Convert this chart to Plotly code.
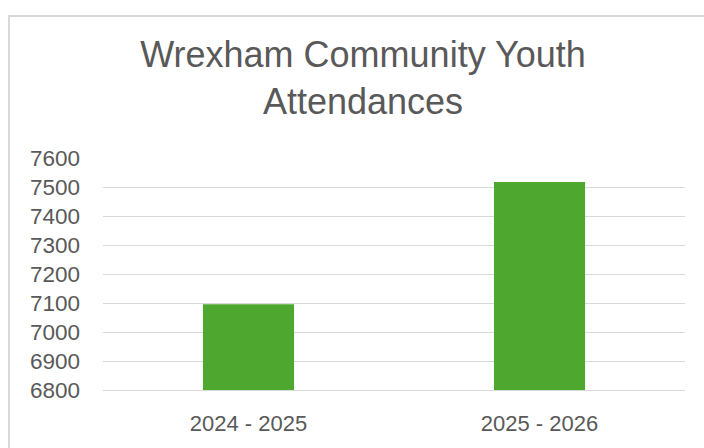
import plotly.graph_objects as go

categories = ["2024 - 2025", "2025 - 2026"]
attendances = [7096, 7517]
y_ticks = [6800, 6900, 7000, 7100, 7200, 7300, 7400, 7500, 7600]

W, H = 704, 448
L, R, T, B = 103, 685, 158, 394
pw, ph = R - L, B - T

fig = go.Figure(go.Bar(
    x=categories, y=attendances,
    marker=dict(color="#4EA72E", line=dict(width=0)),
    hoverinfo="x+y",
))

font = "Liberation Sans, Arial, sans-serif"
grey = "#595959"

fig.update_layout(
    width=W, height=H,
    margin=dict(l=L, r=W - R, t=T, b=H - B, pad=0),
    paper_bgcolor="white", plot_bgcolor="white",
    bargap=0.687,
    showlegend=False,
    font=dict(family=font, color=grey),
    title=dict(
        text="Wrexham Community Youth<br>Attendances",
        font=dict(family=font, size=36, color=grey),
        x=(363 - L) / pw, xref="paper", xanchor="center",
        y=1 - 67 / H, yref="container", yanchor="top",
    ),
    xaxis=dict(
        showgrid=False, showline=True, linecolor="#D9D9D9", linewidth=1,
        tickfont=dict(size=22, color=grey), ticks="", ticklabelstandoff=14,
    ),
    yaxis=dict(
        range=[6800, 7600], tickvals=y_ticks, ticktext=[str(v) for v in y_ticks],
        showgrid=True, gridcolor="#D9D9D9", gridwidth=1, zeroline=False,
        showline=False, tickfont=dict(size=22.5, color=grey), ticks="",
        ticklabelstandoff=22,
    ),
    shapes=[dict(
        type="rect", xref="paper", yref="paper",
        x0=(9 - L) / pw, x1=(W + 20 - L) / pw,
        y0=(B - (H + 20)) / ph, y1=(B - 13.5) / ph,
        line=dict(color="#D9D9D9", width=2), fillcolor="rgba(0,0,0,0)", layer="below",
    )],
)

fig.write_html(
    "out.html",
    config={"displayModeBar": False},
    post_script="document.body.style.margin='0';document.body.style.overflow='hidden';",
)
